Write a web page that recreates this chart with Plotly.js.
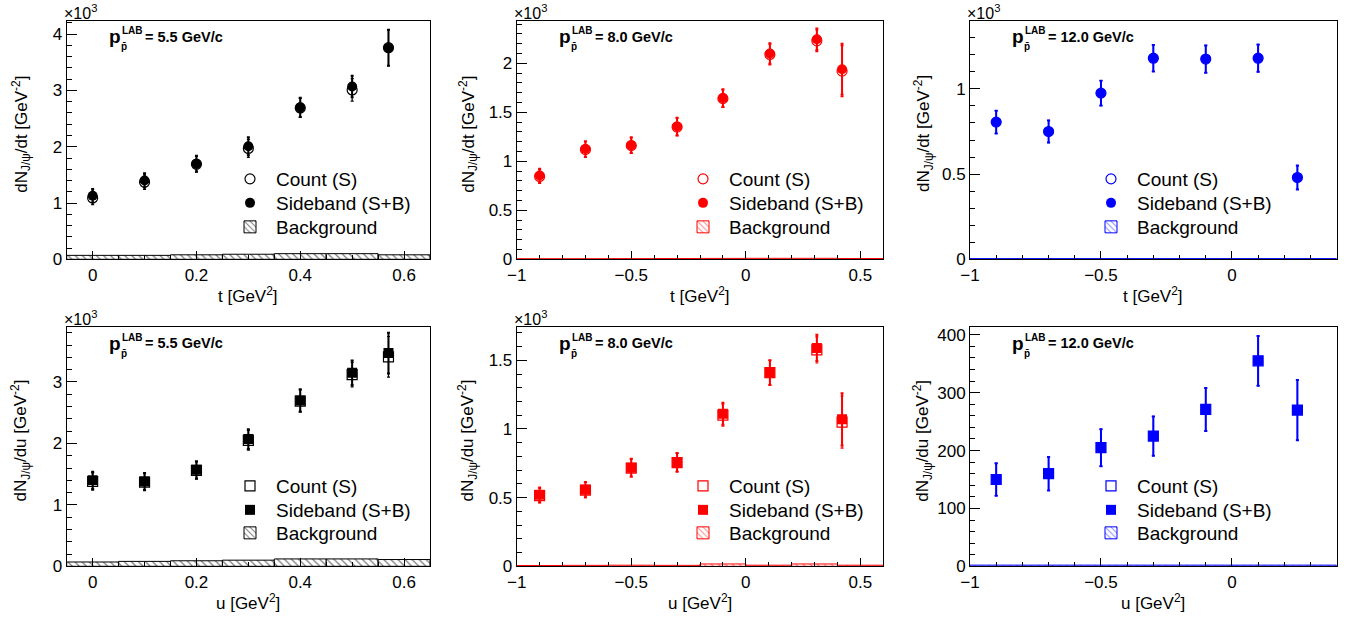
<!DOCTYPE html>
<html>
<head>
<meta charset="utf-8">
<script src="https://cdn.plot.ly/plotly-3.0.1.min.js"></script>
<style>
  html, body { margin: 0; padding: 0; background: #fff; }
  #plot { width: 1350px; height: 618px; }
</style>
</head>
<body>
<div id="plot"></div>
<script>
// ── data (yields in units of 10^3 except p=12 GeV/c u-panel) ──

// p = 5.5 GeV/c, t
const t55X        = [0, 0.1, 0.2, 0.3, 0.4, 0.5, 0.57];
const t55Count    = [1.09, 1.37, 1.69, 1.97, 2.69, 3.01, 3.76];
const t55CountErr = [0.12, 0.13, 0.14, 0.16, 0.17, 0.20, 0.32];
const t55Side     = [1.13, 1.40, 1.70, 2.01, 2.70, 3.07, 3.76];
const t55SideErr  = [0.12, 0.13, 0.14, 0.16, 0.17, 0.19, 0.32];
const t55BgX      = [0, 0.1, 0.2, 0.3, 0.4, 0.5, 0.6];
const t55Bg       = [0.07, 0.07, 0.08, 0.09, 0.10, 0.10, 0.08];

// p = 8.0 GeV/c, t
const t80X        = [-0.9, -0.7, -0.5, -0.3, -0.1, 0.105, 0.31, 0.42];
const t80Count    = [0.845, 1.12, 1.16, 1.35, 1.64, 2.09, 2.23, 1.92];
const t80CountErr = [0.07, 0.08, 0.08, 0.09, 0.09, 0.105, 0.11, 0.26];
const t80Side     = [0.855, 1.125, 1.165, 1.355, 1.645, 2.10, 2.245, 1.94];
const t80SideErr  = [0.07, 0.08, 0.08, 0.09, 0.09, 0.105, 0.11, 0.26];
const t80BgX      = [-0.9, -0.7, -0.5, -0.3, -0.1, 0.1, 0.3, 0.5];
const t80Bg       = [0.006, 0.006, 0.007, 0.008, 0.009, 0.010, 0.010, 0.008];

// p = 12.0 GeV/c, t
const t120X        = [-0.9, -0.7, -0.5, -0.3, -0.1, 0.1, 0.25];
const t120Count    = [0.805, 0.75, 0.975, 1.18, 1.175, 1.18, 0.48];
const t120CountErr = [0.067, 0.065, 0.073, 0.078, 0.08, 0.08, 0.07];
const t120Side     = [0.805, 0.75, 0.975, 1.18, 1.175, 1.18, 0.48];
const t120SideErr  = [0.067, 0.065, 0.073, 0.078, 0.08, 0.08, 0.07];
const t120BgX      = [-0.9, -0.7, -0.5, -0.3, -0.1, 0.1, 0.3];
const t120Bg       = [0.004, 0.004, 0.004, 0.004, 0.004, 0.004, 0.004];

// p = 5.5 GeV/c, u
const u55X        = [0, 0.1, 0.2, 0.3, 0.4, 0.5, 0.57];
const u55Count    = [1.38, 1.37, 1.56, 2.05, 2.69, 3.12, 3.41];
const u55CountErr = [0.14, 0.14, 0.14, 0.16, 0.18, 0.20, 0.33];
const u55Side     = [1.40, 1.38, 1.57, 2.07, 2.70, 3.15, 3.47];
const u55SideErr  = [0.14, 0.14, 0.14, 0.16, 0.18, 0.20, 0.33];
const u55BgX      = [0, 0.1, 0.2, 0.3, 0.4, 0.5, 0.6];
const u55Bg       = [0.07, 0.08, 0.09, 0.10, 0.12, 0.12, 0.11];

// p = 8.0 GeV/c, u
const u80X        = [-0.9, -0.7, -0.5, -0.3, -0.1, 0.105, 0.31, 0.42];
const u80Count    = [0.515, 0.555, 0.715, 0.755, 1.10, 1.41, 1.575, 1.05];
const u80CountErr = [0.053, 0.056, 0.065, 0.067, 0.08, 0.09, 0.095, 0.19];
const u80Side     = [0.52, 0.558, 0.718, 0.757, 1.11, 1.41, 1.59, 1.07];
const u80SideErr  = [0.053, 0.056, 0.065, 0.067, 0.08, 0.09, 0.095, 0.19];
const u80BgX      = [-0.9, -0.7, -0.5, -0.3, -0.1, 0.1, 0.3, 0.5];
const u80Bg       = [0.006, 0.007, 0.008, 0.007, 0.017, 0.008, 0.017, 0.008];

// p = 12.0 GeV/c, u (plain units)
const u120X        = [-0.9, -0.7, -0.5, -0.3, -0.1, 0.1, 0.25];
const u120Count    = [150, 160, 205, 225, 271, 355, 270];
const u120CountErr = [28, 29, 32, 34, 37, 43, 52];
const u120Side     = [150, 160, 205, 225, 271, 355, 270];
const u120SideErr  = [28, 29, 32, 34, 37, 43, 52];
const u120BgX      = [-0.9, -0.7, -0.5, -0.3, -0.1, 0.1, 0.3];
const u120Bg       = [2, 2, 2, 2, 2, 2, 2];

const momentumLabels = ['5.5', '8.0', '12.0'];
const legendNames = ['Count (S)', 'Sideband (S+B)', 'Background'];

// ── page geometry (pixels) ──
const W = 1350, H = 618;
const COLS = [[66.7, 430], [516.7, 883.3], [970, 1336.7]];
const ROWS = [[20.7, 259.3], [327.3, 566.3]];
const LEG_TEXT_X = [276, 729, 1137];             // left edge of legend text per column
const LEG_ROW_Y = [[179, 203, 227], [486, 510, 533]]; // centre of each legend row
const FONT = 'Liberation Sans, Arial, Helvetica, sans-serif';

const COLORS = [
    { line: '#000000', hatch: '#7a7a7a' },
    { line: '#ff0000', hatch: '#ff8c8c' },
    { line: '#0000ff', hatch: '#8c8cff' }
];

const panels = [
    { row: 0, col: 0, v: 't', x: t55X,  c: t55Count,  ce: t55CountErr,  s: t55Side,  se: t55SideErr,  bx: t55BgX,  b: t55Bg,
      xr: [-0.05, 0.65], yr: [0, 4.24], xd: 0.2, xm: 0.05, yd: 1, ym: 0.2, bw: 0.1, exp: true },
    { row: 0, col: 1, v: 't', x: t80X,  c: t80Count,  ce: t80CountErr,  s: t80Side,  se: t80SideErr,  bx: t80BgX,  b: t80Bg,
      xr: [-1, 0.6], yr: [0, 2.435], xd: 0.5, xm: 0.1, yd: 0.5, ym: 0.1, bw: 0.2, exp: true },
    { row: 0, col: 2, v: 't', x: t120X, c: t120Count, ce: t120CountErr, s: t120Side, se: t120SideErr, bx: t120BgX, b: t120Bg,
      xr: [-1, 0.4], yr: [0, 1.40], xd: 0.5, xm: 0.1, yd: 0.5, ym: 0.1, bw: 0.2, exp: true },
    { row: 1, col: 0, v: 'u', x: u55X,  c: u55Count,  ce: u55CountErr,  s: u55Side,  se: u55SideErr,  bx: u55BgX,  b: u55Bg,
      xr: [-0.05, 0.65], yr: [0, 3.89], xd: 0.2, xm: 0.05, yd: 1, ym: 0.2, bw: 0.1, exp: true },
    { row: 1, col: 1, v: 'u', x: u80X,  c: u80Count,  ce: u80CountErr,  s: u80Side,  se: u80SideErr,  bx: u80BgX,  b: u80Bg,
      xr: [-1, 0.6], yr: [0, 1.74], xd: 0.5, xm: 0.1, yd: 0.5, ym: 0.1, bw: 0.2, exp: true },
    { row: 1, col: 2, v: 'u', x: u120X, c: u120Count, ce: u120CountErr, s: u120Side, se: u120SideErr, bx: u120BgX, b: u120Bg,
      xr: [-1, 0.4], yr: [0, 413], xd: 0.5, xm: 0.1, yd: 100, ym: 20, bw: 0.2, exp: false }
];

const data = [];
const layout = {
    width: W, height: H,
    margin: { l: 0, r: 0, t: 0, b: 0 },
    paper_bgcolor: '#fff', plot_bgcolor: '#fff',
    font: { family: FONT, color: '#000' },
    showlegend: true,
    annotations: []
};

function axisBase(range, dtick, minorDtick, len) {
    return {
        range: range, dtick: dtick, tick0: 0, autorange: false,
        showline: true, mirror: true, linecolor: '#000', linewidth: 1,
        ticks: 'inside', ticklen: len, tickwidth: 1, tickcolor: '#000',
        minor: { ticks: 'inside', ticklen: len / 2, dtick: minorDtick, tick0: 0, tickcolor: '#000', tickwidth: 1, showgrid: false },
        showgrid: false, zeroline: false,
        tickfont: { family: FONT, size: 17, color: '#000' },
        fixedrange: true
    };
}

// one single-entry legend per legend row, so rows sit exactly where ROOT put them
let legendCount = 0;
function addLegend(col, row, k) {
    legendCount += 1;
    const id = 'legend' + (legendCount === 1 ? '' : legendCount);
    layout[id] = {
        x: (LEG_TEXT_X[col] - 52) / W, y: 1 - (LEG_ROW_Y[row][k] - 19) / H,
        xanchor: 'left', yanchor: 'top',
        bgcolor: 'rgba(0,0,0,0)', borderwidth: 0, itemwidth: 42,
        font: { family: FONT, size: 19, color: '#000' },
        itemclick: false, itemdoubleclick: false
    };
    return id;
}

panels.forEach((p, i) => {
    const n = i + 1;
    const xa = 'x' + (n === 1 ? '' : n), ya = 'y' + (n === 1 ? '' : n);
    const col = COLORS[p.col];
    const mk = p.row === 0 ? 'circle' : 'square';
    const cx = COLS[p.col], ry = ROWS[p.row];

    layout['xaxis' + (n === 1 ? '' : n)] = Object.assign(axisBase(p.xr, p.xd, p.xm, 8), {
        domain: [cx[0] / W, cx[1] / W], anchor: ya
    });
    layout['yaxis' + (n === 1 ? '' : n)] = Object.assign(axisBase(p.yr, p.yd, p.ym, 10), {
        domain: [1 - ry[1] / H, 1 - ry[0] / H], anchor: xa
    });

    const lgCount = addLegend(p.col, p.row, 0);
    const lgSide = addLegend(p.col, p.row, 1);
    const lgBg = addLegend(p.col, p.row, 2);

    // background histogram (hatched)
    data.push({
        type: 'bar', x: p.bx, y: p.b, width: p.bw, xaxis: xa, yaxis: ya,
        name: legendNames[2], legend: lgBg,
        marker: { color: 'rgba(255,255,255,0)', line: { color: col.line, width: 1 },
                  pattern: { shape: '\\', fgcolor: col.hatch, bgcolor: '#fff', size: 5, solidity: 0.25 } },
        hoverinfo: 'skip'
    });
    // count (S) — open markers
    data.push({
        type: 'scatter', mode: 'markers', x: p.x, y: p.c, xaxis: xa, yaxis: ya,
        name: legendNames[0], legend: lgCount,
        marker: { symbol: mk + '-open', size: 10, color: col.line, line: { width: 1.2, color: col.line } },
        error_y: { type: 'data', array: p.ce, visible: true, color: col.line, thickness: 1.2, width: 1.5 }
    });
    // sideband (S+B) — filled markers
    data.push({
        type: 'scatter', mode: 'markers', x: p.x, y: p.s, xaxis: xa, yaxis: ya,
        name: legendNames[1], legend: lgSide,
        marker: { symbol: mk, size: 10, color: col.line },
        error_y: { type: 'data', array: p.se, visible: true, color: col.line, thickness: 2, width: 1.5 }
    });

    const xd = xa + ' domain', yd = ya + ' domain';
    const ann = layout.annotations;
    // axis titles
    ann.push({ xref: xd, yref: yd, x: 0.5, y: 0, yshift: -36, showarrow: false,
               xanchor: 'center', yanchor: 'middle',
               text: p.v + ' [GeV<sup>2</sup>]', font: { family: FONT, size: 17 } });
    ann.push({ xref: xd, yref: yd, x: 0, y: 0.525, xshift: [-46, -49, -47][p.col], showarrow: false,
               xanchor: 'center', yanchor: 'middle', textangle: -90,
               text: 'dN<sub>J/ψ</sub>/d' + p.v + ' [GeV<sup>-2</sup>]', font: { family: FONT, size: 17 } });
    // ×10^3 exponent label
    if (p.exp) {
        ann.push({ xref: xd, yref: yd, x: 0, y: 1, xshift: -5, yshift: -3, showarrow: false,
                   xanchor: 'left', yanchor: 'bottom',
                   text: '×10<sup>3</sup>', font: { family: FONT, size: 16 } });
    }
    // beam momentum label p_{p̄}^{LAB}
    ann.push({ xref: xd, yref: yd, x: 0, y: 1, xshift: 40, yshift: -16, showarrow: false,
               xanchor: 'left', yanchor: 'middle', text: '<b>p</b>', font: { family: FONT, size: 19 } });
    ann.push({ xref: xd, yref: yd, x: 0, y: 1, xshift: 53, yshift: -10, showarrow: false,
               xanchor: 'left', yanchor: 'middle', text: '<b>LAB</b>', font: { family: FONT, size: 10 } });
    ann.push({ xref: xd, yref: yd, x: 0, y: 1, xshift: 52, yshift: -26, showarrow: false,
               xanchor: 'left', yanchor: 'middle', text: '<b>p̄</b>', font: { family: FONT, size: 10 } });
    ann.push({ xref: xd, yref: yd, x: 0, y: 1, xshift: 76, yshift: -16, showarrow: false,
               xanchor: 'left', yanchor: 'middle',
               text: '<b>= ' + momentumLabels[p.col] + ' GeV/c</b>', font: { family: FONT, size: 14.5 } });
});

Plotly.newPlot('plot', data, layout, { staticPlot: true, displayModeBar: false });
</script>
</body>
</html>
